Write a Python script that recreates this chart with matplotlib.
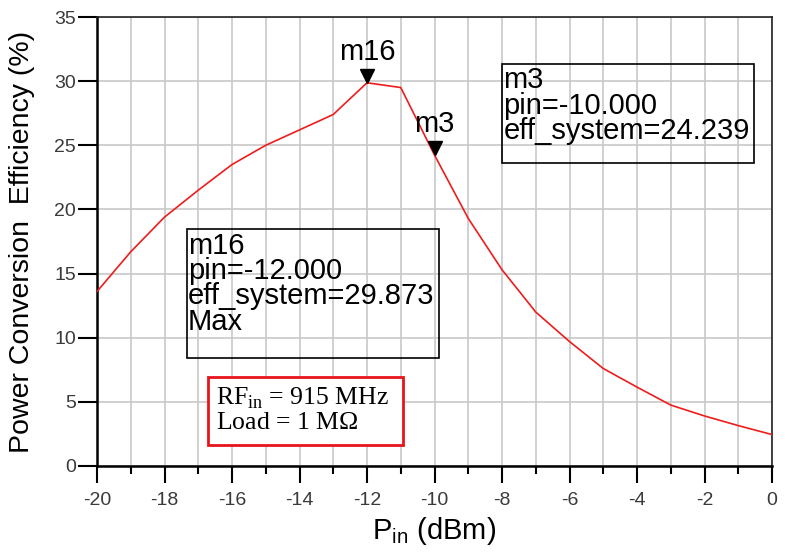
import numpy as np
import matplotlib.pyplot as plt
import matplotlib.transforms as mtransforms
from matplotlib.patches import Rectangle

plt.rcParams['font.family'] = ['Liberation Sans', 'DejaVu Sans']
plt.rcParams['axes.unicode_minus'] = False

# input power sweep (dBm) and system efficiency (%)
pin = [-20, -19, -18, -17, -16, -15, -14, -13, -12, -11,
       -10, -9, -8, -7, -6, -5, -4, -3, -2, -1, 0]
eff_system = [13.6, 16.7, 19.4, 21.5, 23.5, 25.0, 26.2, 27.4, 29.873, 29.5,
              24.239, 19.3, 15.3, 12.0, 9.7, 7.6, 6.15, 4.75, 3.9, 3.15, 2.45]

x_ticks = [-20, -18, -16, -14, -12, -10, -8, -6, -4, -2, 0]
y_ticks = [0, 5, 10, 15, 20, 25, 30, 35]

markers = [("m16", -12, 29.873), ("m3", -10, 24.239)]

fig = plt.figure(figsize=(7.85, 5.57), dpi=100)
ax = fig.add_axes([97/785, 1 - 466/557, 675/785, 449/557])

ax.plot(pin, eff_system, color='#ee1c1c', linewidth=1.2, zorder=3)

ax.set_xlim(-20, 0)
ax.set_ylim(0, 35)
ax.set_xticks(x_ticks)
ax.set_xticks(np.arange(-19, 0, 2), minor=True)
ax.set_yticks(y_ticks)
ax.grid(True, which='both', axis='x', color='#c8c8c8', linewidth=1.2)
ax.grid(True, which='major', axis='y', color='#c8c8c8', linewidth=1.2)
ax.set_axisbelow(True)

ax.tick_params(axis='both', which='major', direction='out', width=1.5,
               labelsize=14, labelcolor='#3a3a3a')
ax.tick_params(axis='x', which='major', length=12, pad=7)
ax.tick_params(axis='y', which='major', length=14, pad=1)
ax.tick_params(axis='x', which='minor', direction='out', length=6, width=1.5)
for s in ['left', 'bottom']:
    ax.spines[s].set_linewidth(1.8)
for s in ['top', 'right']:
    ax.spines[s].set_linewidth(1.2)
    ax.spines[s].set_color('#222222')

ax.set_ylabel('Power Conversion  Efficiency (%)', fontsize=20.5)
ax.yaxis.set_label_coords(-62/675, 0.5)
ax.set_xlabel(r'P$_{\mathregular{in}}$ (dBm)', fontsize=21, labelpad=4)

# marker triangles and names
tri_offset = mtransforms.offset_copy(ax.transData, fig=fig, x=0, y=5, units='points')
for name, mx, my in markers:
    ax.plot([mx], [my], marker='v', color='black', markersize=10,
            transform=tri_offset, zorder=4)
    ax.annotate(name, xy=(mx, my), xytext=(0, 12), textcoords='offset points',
                ha='center', va='bottom', fontsize=21)

# readout boxes
box_text = dict(fontsize=21, ha='left', va='top', linespacing=0.88,
                transform=ax.transAxes, zorder=5)
ax.text(0.135, 0.522, "m16\npin=-12.000\neff_system=29.873\nMax", **box_text)
ax.add_patch(Rectangle((0.133, 0.24), 0.373, 0.287, transform=ax.transAxes,
                       fill=False, edgecolor='black', linewidth=1.2, zorder=5))
ax.text(0.602, 0.89, "m3\npin=-10.000\neff_system=24.239", **box_text)
ax.add_patch(Rectangle((0.6, 0.674), 0.374, 0.221, transform=ax.transAxes,
                       fill=False, edgecolor='black', linewidth=1.2, zorder=5))

# test conditions
ax.add_patch(Rectangle((0.164, 0.047), 0.289, 0.151, transform=ax.transAxes,
                       facecolor='white', edgecolor='#e8141c', linewidth=2, zorder=5))
ax.text(0.177, 0.125,
        r"RF$_{\mathregular{in}}$ = 915 MHz" + "\n" + r"Load = 1 M$\mathregular{\Omega}$",
        transform=ax.transAxes, ha='left', va='center', fontsize=18.5,
        family='Liberation Serif', linespacing=1.05, zorder=6)

fig.savefig('out.png', dpi=100)
